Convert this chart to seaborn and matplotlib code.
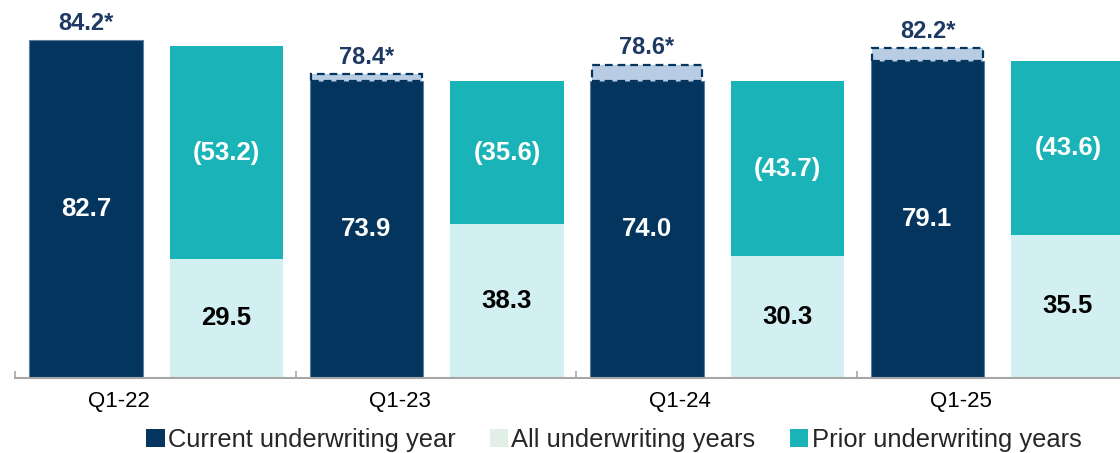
import matplotlib
matplotlib.use("Agg")
import matplotlib.pyplot as plt
from matplotlib.patches import Patch
import seaborn as sns
import pandas as pd
import numpy as np

# ---- data ----
quarters = ["Q1-22", "Q1-23", "Q1-24", "Q1-25"]
current_year = [82.7, 73.9, 74.0, 79.1]          # labels inside navy bars
current_bar_height = [84.2, 73.9, 74.0, 79.1]    # drawn navy bar heights
adjusted_labels = ["84.2*", "78.4*", "78.6*", "82.2*"]
adjusted_box_top = [84.2, 75.7, 78.1, 82.1]      # dashed box tops
all_years = [29.5, 38.3, 30.3, 35.5]
prior_years = [53.2, 35.6, 43.7, 43.6]
prior_labels = ["(53.2)", "(35.6)", "(43.7)", "(43.6)"]
legend_labels = ["Current underwriting year", "All underwriting years", "Prior underwriting years"]

NAVY = "#04355E"
NAVY_EDGE = "#5F7FA0"
TEAL = "#1AB3B8"
LIGHT = "#D2EFF1"
LIGHT_LEGEND = "#E2EFE6"
BOX = "#B8CCE4"
LABEL_NAVY = "#1F3A62"

sns.set_style("white")
plt.rcParams["font.family"] = ["Liberation Sans", "DejaVu Sans"]

fig = plt.figure(figsize=(11.2, 4.53), dpi=100)
ax = fig.add_axes([15 / 1120, 75.5 / 453, 1 - 15 / 1120, 1 - 75.5 / 453])

idx = np.arange(len(quarters))
x_dark = idx + 0.253
x_stack = idx + 0.754
W = 0.405

df = pd.DataFrame({
    "x_dark": x_dark, "x_stack": x_stack,
    "current": current_bar_height,
    "stack_total": np.array(all_years) + np.array(prior_years),
    "all": all_years,
})

# navy bars
sns.barplot(data=df, x="x_dark", y="current", native_scale=True, width=W,
            color=NAVY, saturation=1, edgecolor=NAVY_EDGE, linewidth=0.8,
            errorbar=None, ax=ax)
# stacked: teal (total) then light (all years)
sns.barplot(data=df, x="x_stack", y="stack_total", native_scale=True, width=W,
            color=TEAL, saturation=1, linewidth=0, errorbar=None, ax=ax)
sns.barplot(data=df, x="x_stack", y="all", native_scale=True, width=W,
            color=LIGHT, saturation=1, linewidth=0, errorbar=None, ax=ax)

# dashed adjusted boxes
for i in idx:
    h = adjusted_box_top[i] - current_bar_height[i]
    if h > 0:
        ax.bar(x_dark[i], h, bottom=current_bar_height[i], width=W - 0.01,
               color=BOX, edgecolor=NAVY, linewidth=1.6, linestyle=(0, (3.5, 2.2)),
               zorder=3)

# labels
for i in idx:
    ax.text(x_dark[i], current_bar_height[i] / 2, f"{current_year[i]:.1f}",
            ha="center", va="center", color="white", fontsize=18.5, fontweight="bold")
    ax.text(x_stack[i], all_years[i] / 2, f"{all_years[i]:.1f}",
            ha="center", va="center", color="black", fontsize=18.5, fontweight="bold")
    ax.text(x_stack[i], all_years[i] + prior_years[i] / 2, prior_labels[i],
            ha="center", va="center", color="white", fontsize=18.5, fontweight="bold")
    ax.annotate(adjusted_labels[i], (x_dark[i], adjusted_box_top[i]),
                xytext=(0, 4), textcoords="offset points",
                ha="center", va="bottom", color=LABEL_NAVY, fontsize=17, fontweight="bold")

ax.set_xlim(0, (1120 - 15) / 280.5)
ax.set_ylim(0, 94.2)
ax.set_xlabel("")
ax.set_ylabel("")
ax.set_yticks([])
for s in ["top", "right", "left"]:
    ax.spines[s].set_visible(False)
ax.spines["bottom"].set_color("#A6A6A6")
ax.spines["bottom"].set_linewidth(1.5)

ax.set_xticks(idx, [""] * len(idx))
ax.tick_params(axis="x", which="major", direction="in", length=5, width=1.2, color="#A6A6A6", bottom=True)
ax.set_xticks(idx + 0.371, quarters, minor=True)
ax.tick_params(axis="x", which="minor", length=0, pad=10, labelsize=16, labelcolor="black")

handles = [Patch(facecolor=NAVY, edgecolor="none"),
           Patch(facecolor=LIGHT_LEGEND, edgecolor="none"),
           Patch(facecolor=TEAL, edgecolor="none")]
fig.legend(handles, legend_labels, loc="center", bbox_to_anchor=(0.548, 0.028),
           ncol=3, frameon=False, fontsize=18.4, handlelength=0.72, handleheight=0.72,
           handletextpad=0.12, columnspacing=1.35, borderpad=0, borderaxespad=0)

fig.savefig("out.png", dpi=100)
